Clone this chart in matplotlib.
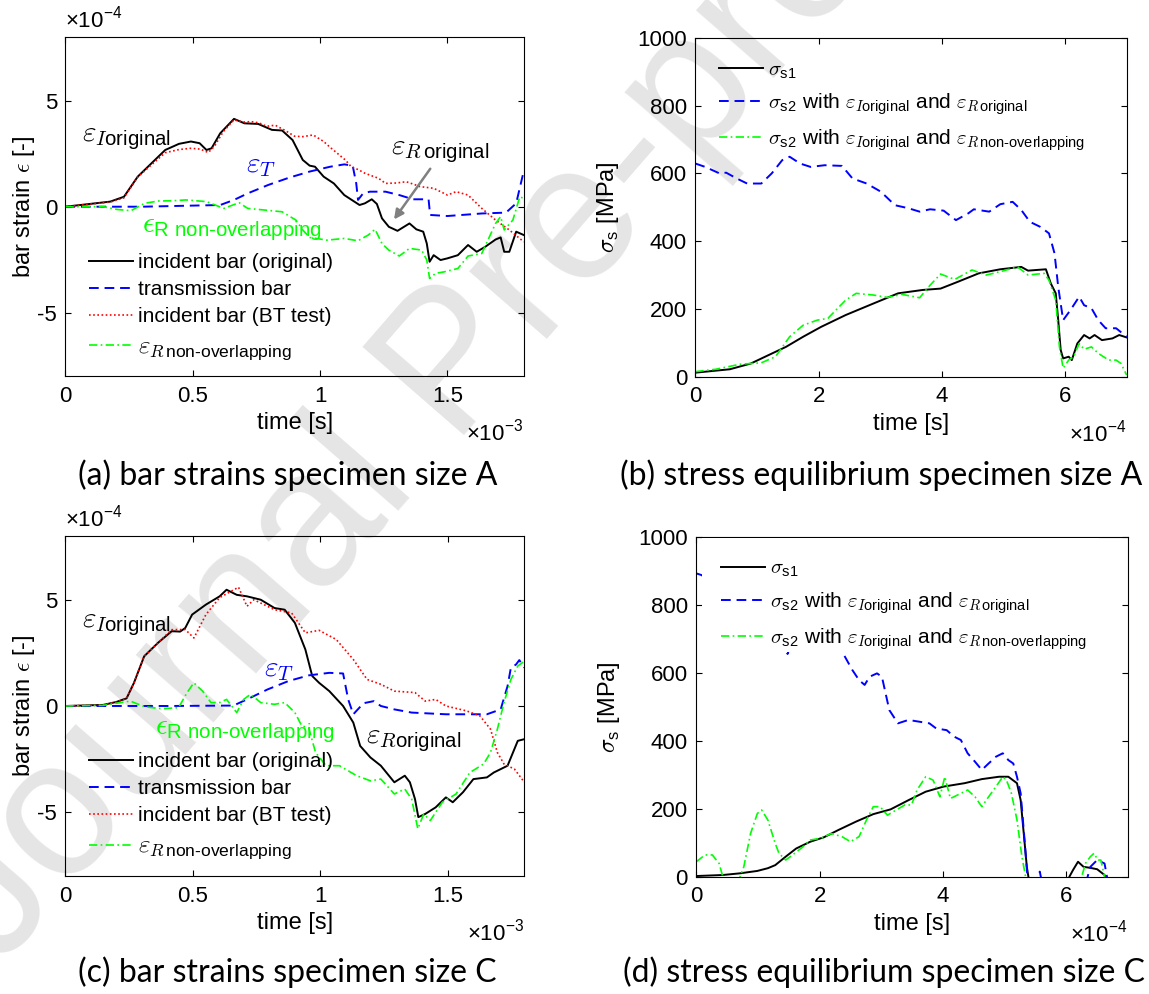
import matplotlib
matplotlib.use('Agg')
import matplotlib.pyplot as plt
import numpy as np
from matplotlib.patches import Rectangle
from matplotlib.ticker import FuncFormatter

plt.rcParams['font.family'] = 'Liberation Sans'
plt.rcParams['mathtext.fontset'] = 'custom'
plt.rcParams['mathtext.rm'] = 'Liberation Sans'
plt.rcParams['mathtext.sf'] = 'Liberation Sans'
plt.rcParams['mathtext.it'] = 'cmmi10'
plt.rcParams['mathtext.bf'] = 'Liberation Sans:bold'
plt.rcParams['mathtext.fallback'] = 'cm'

# ---- data: time in 1e-3 s, strain in 1e-4 (panels a, c) ----
inc_a = [(0, 0), (0.176, 0.24), (0.23, 0.47), (0.284, 1.42), (0.338, 2.05), (0.392, 2.68), (0.446, 2.97),
         (0.493, 3.08), (0.527, 3.0), (0.554, 2.68), (0.574, 2.76), (0.608, 3.47), (0.662, 4.15), (0.703, 3.94),
         (0.757, 3.91), (0.811, 3.63), (0.851, 3.6), (0.892, 3.15), (0.932, 2.21), (0.959, 1.94), (0.98, 1.89),
         (1.014, 1.42), (1.054, 1.1), (1.095, 0.55), (1.155, 0.08), (1.176, 0.16), (1.203, 0.35), (1.223, 0.13),
         (1.243, -0.55), (1.27, -0.95), (1.304, -1.14), (1.351, -0.79), (1.378, -1.07), (1.405, -1.18),
         (1.419, -1.74), (1.43, -2.6), (1.446, -2.29), (1.473, -2.52), (1.5, -2.44), (1.541, -2.29),
         (1.581, -1.81), (1.615, -2.13), (1.649, -1.89), (1.689, -1.55), (1.709, -1.45), (1.723, -2.13),
         (1.743, -2.13), (1.77, -1.18), (1.8, -1.34)]
trans_a = [(0, 0), (0.3, 0), (0.608, 0.08), (0.662, 0.32), (0.716, 0.63), (0.797, 1.03), (0.878, 1.37),
           (0.959, 1.66), (1.04, 1.89), (1.095, 2.0), (1.128, 1.94), (1.142, 1.1), (1.149, 0.32), (1.169, 0.63),
           (1.196, 0.71), (1.257, 0.71), (1.311, 0.55), (1.365, 0.35), (1.426, 0.35), (1.432, -0.39),
           (1.5, -0.44), (1.635, -0.32), (1.73, -0.28), (1.77, 0.16), (1.8, 1.7)]
bt_a = [(0, 0), (0.176, 0.22), (0.23, 0.42), (0.284, 1.40), (0.338, 1.98), (0.392, 2.55), (0.446, 2.70),
        (0.493, 2.76), (0.53, 2.72), (0.561, 2.56), (0.585, 2.85), (0.62, 3.55), (0.662, 4.10), (0.70, 4.0),
        (0.73, 4.02), (0.76, 3.96), (0.79, 3.80), (0.824, 3.85), (0.86, 3.62), (0.90, 3.33), (0.932, 3.31),
        (0.973, 3.39), (1.014, 3.08), (1.04, 2.8), (1.068, 2.52), (1.1, 2.2), (1.122, 1.89), (1.15, 1.75),
        (1.176, 1.58), (1.23, 1.34), (1.257, 1.1), (1.30, 1.12), (1.338, 1.18), (1.37, 1.05), (1.392, 0.95),
        (1.446, 0.87), (1.5, 0.55), (1.534, 0.71), (1.581, 0.55), (1.635, -0.08), (1.689, -0.63),
        (1.743, -1.1), (1.8, -1.66)]
nonov_a = [(0, 0), (0.149, 0), (0.203, -0.13), (0.257, -0.19), (0.311, 0.16), (0.365, 0.27), (0.419, 0.28),
           (0.473, 0.32), (0.554, 0.24), (0.622, -0.08), (0.682, 0.19), (0.716, -0.08), (0.784, -0.16),
           (0.851, -0.24), (0.905, -0.63), (0.932, -1.1), (0.959, -1.45), (1.027, -1.58), (1.095, -1.5),
           (1.149, -1.61), (1.189, -1.34), (1.216, -1.07), (1.243, -1.74), (1.27, -2.05), (1.311, -2.33),
           (1.351, -1.97), (1.399, -2.05), (1.419, -2.52), (1.43, -3.39), (1.453, -3.15), (1.486, -3.08),
           (1.541, -2.92), (1.581, -2.33), (1.635, -2.21), (1.689, -0.79), (1.709, -0.47), (1.723, -1.1),
           (1.757, -0.63), (1.784, 0.47), (1.8, 0.39)]

inc_c = [(0, 0), (0.148, 0.05), (0.2, 0.19), (0.24, 0.36), (0.269, 1.09), (0.309, 2.34), (0.363, 2.97),
         (0.417, 3.52), (0.45, 3.5), (0.47, 3.67), (0.497, 4.3), (0.551, 4.77), (0.605, 5.16), (0.632, 5.47),
         (0.672, 5.23), (0.712, 5.16), (0.766, 5.0), (0.82, 4.61), (0.86, 4.53), (0.9, 3.91), (0.941, 2.66),
         (0.968, 1.41), (0.995, 1.09), (1.035, 0.7), (1.089, 0.0), (1.129, -0.78), (1.156, -1.88),
         (1.196, -2.42), (1.237, -2.81), (1.29, -3.59), (1.331, -3.28), (1.351, -3.59), (1.371, -4.38),
         (1.384, -5.23), (1.411, -5.08), (1.452, -4.77), (1.492, -4.3), (1.519, -4.53), (1.559, -4.06),
         (1.6, -3.44), (1.653, -3.36), (1.68, -3.13), (1.734, -2.81), (1.774, -1.64), (1.8, -1.56)]
trans_c = [(0, 0), (0.4, 0), (0.659, 0.02), (0.712, 0.31), (0.793, 0.78), (0.874, 1.17), (0.954, 1.44),
           (1.035, 1.56), (1.089, 1.53), (1.109, 0.31), (1.129, -0.39), (1.169, 0.13), (1.21, 0.23),
           (1.237, 0.0), (1.29, -0.16), (1.358, -0.31), (1.492, -0.39), (1.653, -0.39), (1.707, -0.16),
           (1.734, 0.94), (1.747, 1.8), (1.767, 1.95), (1.78, 2.16), (1.8, 1.8)]
bt_c = [(0, 0), (0.148, 0.05), (0.2, 0.19), (0.24, 0.36), (0.269, 1.09), (0.309, 2.34), (0.363, 2.97),
        (0.417, 3.59), (0.47, 3.6), (0.504, 3.2), (0.551, 4.3), (0.605, 5.1), (0.679, 5.59), (0.712, 4.69),
        (0.739, 5.0), (0.82, 4.53), (0.887, 4.38), (0.941, 3.44), (0.995, 3.56), (1.062, 3.13),
        (1.129, 2.19), (1.183, 1.25), (1.237, 1.02), (1.29, 0.7), (1.371, 0.63), (1.411, 0.23),
        (1.452, 0.31), (1.492, 0.0), (1.573, -0.23), (1.626, -0.47), (1.667, -1.09), (1.694, -2.19),
        (1.72, -2.73), (1.761, -2.97), (1.8, -3.59)]
nonov_c = [(0, 0), (0.148, 0.03), (0.255, 0.23), (0.309, -0.03), (0.376, -0.13), (0.444, -0.08),
           (0.477, 0.63), (0.504, 1.09), (0.538, 0.7), (0.571, 0.16), (0.605, 0.16), (0.632, 0.31),
           (0.672, -0.31), (0.699, 0.31), (0.726, 0.55), (0.766, 0.16), (0.82, 0.08), (0.86, 0.16),
           (0.9, -0.31), (0.927, -0.94), (0.954, -1.02), (0.981, -2.19), (1.022, -2.81), (1.075, -2.81),
           (1.142, -3.28), (1.196, -3.52), (1.237, -3.44), (1.29, -4.14), (1.331, -3.91), (1.358, -4.38),
           (1.382, -5.78), (1.405, -5.08), (1.431, -5.39), (1.478, -4.53), (1.532, -4.14), (1.586, -3.13),
           (1.64, -2.73), (1.667, -2.19), (1.694, -1.09), (1.72, 0.16), (1.747, 1.25), (1.774, 1.88),
           (1.8, 2.11)]

# ---- data: time in 1e-4 s, stress in MPa (panels b, d) ----
s1_b = [(0, 12), (0.56, 22), (0.9, 39), (1.19, 64), (1.47, 88), (1.75, 118), (2.04, 147), (2.44, 182),
        (2.89, 216), (3.29, 246), (3.69, 256), (3.98, 260), (4.26, 280), (4.6, 305), (4.95, 317), (5.29, 324),
        (5.4, 313), (5.69, 317), (5.77, 275), (5.85, 246), (5.89, 167), (5.93, 79), (5.97, 54), (6.06, 59),
        (6.11, 49), (6.2, 98), (6.31, 123), (6.4, 113), (6.48, 123), (6.6, 108), (6.77, 113), (6.88, 123),
        (7.0, 116)]
s2_orig_b = [(0, 629), (0.16, 619), (0.39, 600), (0.5, 602), (0.67, 585), (0.84, 570), (1.07, 570), (1.24, 600),
             (1.41, 639), (1.53, 649), (1.7, 629), (1.87, 619), (2.1, 624), (2.38, 622), (2.55, 585), (2.78, 570),
             (3.01, 546), (3.24, 506), (3.46, 497), (3.64, 487), (3.81, 494), (4.03, 490), (4.23, 462),
             (4.43, 482), (4.52, 494), (4.77, 487), (4.95, 509), (5.15, 516), (5.29, 492), (5.43, 457),
             (5.6, 442), (5.74, 423), (5.83, 364), (5.89, 265), (5.97, 167), (6.09, 197), (6.23, 236),
             (6.31, 211), (6.43, 202), (6.54, 167), (6.66, 143), (6.83, 143), (7.0, 118)]
s2_nonov_b = [(0, 15), (0.33, 22), (0.73, 37), (1.07, 41), (1.3, 59), (1.53, 118), (1.75, 152), (1.98, 167),
              (2.15, 172), (2.44, 226), (2.61, 246), (2.89, 241), (3.12, 234), (3.35, 243), (3.64, 233),
              (3.81, 270), (3.98, 303), (4.21, 287), (4.49, 315), (4.72, 300), (4.95, 310), (5.23, 324),
              (5.4, 300), (5.66, 305), (5.74, 285), (5.85, 226), (5.91, 88), (5.97, 25), (6.06, 49), (6.14, 59),
              (6.23, 98), (6.31, 81), (6.43, 88), (6.54, 69), (6.71, 49), (6.83, 49), (6.91, 39), (7.0, 5)]

s1_d = [(0, 2), (0.43, 5), (0.71, 10), (0.99, 17), (1.16, 25), (1.28, 34), (1.45, 59), (1.62, 83), (1.85, 103),
        (2.07, 116), (2.3, 137), (2.59, 162), (2.87, 184), (3.15, 198), (3.44, 225), (3.72, 250), (4.01, 265),
        (4.35, 275), (4.63, 287), (4.91, 294), (5.06, 294), (5.2, 275), (5.26, 225), (5.31, 127), (5.36, 29),
        (5.42, -40), (6.0, -40), (6.05, 0), (6.11, 20), (6.19, 44), (6.28, 29), (6.39, 26), (6.5, 22),
        (6.62, 5), (6.7, -30), (7.0, -30)]
# the part hidden behind the legend is a guess
s2_orig_d = [(0, 892), (0.085, 887), (0.14, 880), (0.5, 900), (1.0, 850), (1.3, 760), (1.42, 690),
             (1.48, 655), (1.55, 690), (1.8, 750), (2.2, 720), (2.41, 647), (2.53, 608), (2.64, 578),
             (2.73, 564), (2.81, 588), (2.93, 598), (3.01, 588), (3.07, 539), (3.13, 490), (3.27, 451),
             (3.44, 461), (3.61, 456), (3.78, 451), (3.89, 436), (4.06, 431), (4.18, 412), (4.29, 402),
             (4.4, 363), (4.52, 338), (4.63, 314), (4.74, 333), (4.86, 353), (4.97, 363), (5.06, 343),
             (5.14, 333), (5.2, 294), (5.26, 245), (5.31, 137), (5.37, 0), (5.45, -40), (5.52, -10),
             (5.57, 15), (5.62, -30), (6.3, -30), (6.39, 29), (6.5, 49), (6.62, 39), (6.68, -20), (7.0, -30)]
s2_nonov_d = [(0, 44), (0.14, 64), (0.26, 64), (0.37, 39), (0.43, 0), (0.5, -30), (0.65, -30), (0.71, 0),
              (0.77, 29), (0.88, 127), (0.99, 186), (1.06, 196), (1.16, 167), (1.28, 98), (1.34, 69),
              (1.45, 49), (1.56, 64), (1.73, 88), (1.85, 108), (2.02, 113), (2.19, 127), (2.36, 118),
              (2.5, 103), (2.64, 118), (2.76, 167), (2.87, 206), (2.98, 206), (3.1, 181), (3.24, 196),
              (3.38, 211), (3.49, 211), (3.58, 255), (3.72, 294), (3.84, 284), (3.95, 235), (4.03, 294),
              (4.12, 230), (4.29, 245), (4.4, 255), (4.52, 235), (4.63, 206), (4.74, 235), (4.86, 265),
              (4.97, 294), (5.03, 284), (5.11, 245), (5.2, 167), (5.28, 59), (5.34, 0), (5.4, -50), (6.2, -50),
              (6.25, 0), (6.31, 39), (6.39, 59), (6.45, 69), (6.51, 49), (6.56, 49), (6.62, 0), (6.7, -40),
              (7.0, -40)]

strain_labels = ['incident bar (original)', 'transmission bar', 'incident bar (BT test)',
                 r'$\varepsilon_{R\,\mathrm{non}\text{-}\mathrm{overlapping}}$']
stress_labels = [r'$\sigma_{\mathrm{s1}}$',
                 r'$\sigma_{\mathrm{s2}}$ with $\varepsilon_{I\mathrm{original}}$ and $\varepsilon_{R\,\mathrm{original}}$',
                 r'$\sigma_{\mathrm{s2}}$ with $\varepsilon_{I\mathrm{original}}$ and '
                 r'$\varepsilon_{R\,\mathrm{non}\text{-}\mathrm{overlapping}}$']
captions = ['(a) bar strains specimen size A', '(b) stress equilibrium specimen size A',
            '(c) bar strains specimen size C', '(d) stress equilibrium specimen size C']

TICK_FS = 16
LAB_FS = 17
LEG_FS = 15
GREEN = '#00ff00'


def xy(pairs):
    a = np.array(pairs, dtype=float)
    return a[:, 0], a[:, 1]


def style_axes(ax):
    ax.set_facecolor('none')
    ax.tick_params(direction='in', top=True, right=True, length=4, labelsize=TICK_FS)
    ax.tick_params(axis='x', pad=7)
    ax.tick_params(axis='y', pad=6)
    ax.xaxis.set_major_formatter(FuncFormatter(lambda v, p: '%g' % v))
    ax.yaxis.set_major_formatter(FuncFormatter(lambda v, p: '%g' % v))


def strain_panel(ax, inc, trans, bt, nonov, notes):
    ax.plot(*xy(inc), color='k', lw=1.4, label=strain_labels[0])
    ax.plot(*xy(trans), color='b', lw=1.4, ls=(0, (5, 3)), label=strain_labels[1])
    ax.plot(*xy(bt), color='r', lw=1.2, ls=(0, (1, 1.5)), label=strain_labels[2])
    ax.plot(*xy(nonov), color=GREEN, lw=1.2, ls=(0, (5, 2, 1, 2)), label=strain_labels[3])
    ax.set_xlim(0, 1.8)
    ax.set_ylim(-8, 8)
    ax.set_xticks([0, 0.5, 1, 1.5])
    ax.set_yticks([-5, 0, 5])
    ax.set_xlabel('time [s]', fontsize=LAB_FS, labelpad=4)
    ax.set_ylabel(r'bar strain $\epsilon$ [-]', fontsize=LAB_FS, labelpad=0.5)
    ax.text(0, 1.01, r'$\times$10$^{-4}$', transform=ax.transAxes, fontsize=TICK_FS, ha='left', va='bottom')
    ax.text(1, -0.17, r'$\times$10$^{-3}$', transform=ax.transAxes, fontsize=TICK_FS, ha='right', va='center')
    leg = ax.legend(loc='upper left', bbox_to_anchor=(0.033, 0.388), borderaxespad=0, frameon=False,
                    fontsize=LEG_FS, handlelength=2.1, handletextpad=0.25, labelspacing=0.38)
    leg.get_texts()[3].set_fontsize(18)
    for txt, x, y, c, fs in notes:
        ax.text(x, y, txt, color=c, fontsize=fs, ha='left', va='center')


def stress_panel(ax, s1, s2o, s2n, x0, cover=False):
    ax.plot(*xy(s1), color='k', lw=1.4, label=stress_labels[0])
    ax.plot(*xy(s2o), color='b', lw=1.4, ls=(0, (5, 3)), label=stress_labels[1])
    ax.plot(*xy(s2n), color=GREEN, lw=1.2, ls=(0, (5, 2, 1, 2)), label=stress_labels[2])
    ax.set_xlim(0, 7)
    ax.set_ylim(0, 1000)
    ax.set_xticks([0, 2, 4, 6])
    ax.set_yticks(range(0, 1001, 200))
    ax.set_xlabel('time [s]', fontsize=LAB_FS, labelpad=4)
    ax.set_ylabel(r'$\sigma_{\mathrm{s}}$ [MPa]', fontsize=LAB_FS, labelpad=12)
    ax.text(1, -0.17, r'$\times$10$^{-4}$', transform=ax.transAxes, fontsize=TICK_FS, ha='right', va='center')
    if cover:
        # white legend background hiding the curve behind it
        ax.add_patch(Rectangle((0.014, 0.66), 0.92, 0.335, transform=ax.transAxes,
                               facecolor='white', edgecolor='none', zorder=4))
    ax.legend(loc='upper left', bbox_to_anchor=(x0, 0.959), borderaxespad=0, frameon=False,
              fontsize=LEG_FS, handlelength=2.1, handletextpad=0.25, labelspacing=0.5)


fig = plt.figure(figsize=(11.49, 9.94), dpi=100)

fig.text(0.0, 0.025, 'Journal Pre-proof', rotation=49, fontsize=140, color='#e5e5e5',
         ha='left', va='baseline', rotation_mode='anchor', zorder=-10)

ax_a = fig.add_axes([0.0569, 0.6217, 0.3990, 0.3407])
ax_b = fig.add_axes([0.6052, 0.6210, 0.3753, 0.3410])
ax_c = fig.add_axes([0.0569, 0.1187, 0.3995, 0.3421])
ax_d = fig.add_axes([0.6060, 0.1180, 0.3757, 0.3421])
for ax in (ax_a, ax_b, ax_c, ax_d):
    style_axes(ax)

strain_panel(ax_a, inc_a, trans_a, bt_a, nonov_a, [
    (r'$\varepsilon_{I\mathrm{original}}$', 0.065, 3.25, 'k', 21),
    (r'$\varepsilon_{T}$', 0.71, 1.95, 'b', 21),
    (r'$\varepsilon_{R\,\mathrm{original}}$', 1.28, 2.65, 'k', 21),
    (r'$\epsilon_{\mathrm{R\ non}\text{-}\mathrm{overlapping}}$', 0.30, -1.05, GREEN, 21)])
ax_a.annotate('', xy=(1.284, -0.71), xytext=(1.439, 1.9),
              arrowprops=dict(arrowstyle='-|>', color='#808080', lw=1.8, mutation_scale=14))
strain_panel(ax_c, inc_c, trans_c, bt_c, nonov_c, [
    (r'$\varepsilon_{I\mathrm{original}}$', 0.065, 3.85, 'k', 21),
    (r'$\varepsilon_{T}$', 0.78, 1.75, 'b', 21),
    (r'$\varepsilon_{R\mathrm{original}}$', 1.18, -1.6, 'k', 21),
    (r'$\epsilon_{\mathrm{R\ non}\text{-}\mathrm{overlapping}}$', 0.35, -1.2, GREEN, 21)])
stress_panel(ax_b, s1_b, s2_orig_b, s2_nonov_b, 0.036)
stress_panel(ax_d, s1_d, s2_orig_d, s2_nonov_d, 0.0375, cover=True)

cap_font = ['Lato', 'DejaVu Sans']
fig.text(0.2502, 0.522, captions[0], family=cap_font, fontsize=23, ha='center', va='center')
fig.text(0.7665, 0.522, captions[1], family=cap_font, fontsize=23, ha='center', va='center')
fig.text(0.2502, 0.022, captions[2], family=cap_font, fontsize=23, ha='center', va='center')
fig.text(0.7690, 0.022, captions[3], family=cap_font, fontsize=23, ha='center', va='center')

fig.savefig('out.png', dpi=100)
